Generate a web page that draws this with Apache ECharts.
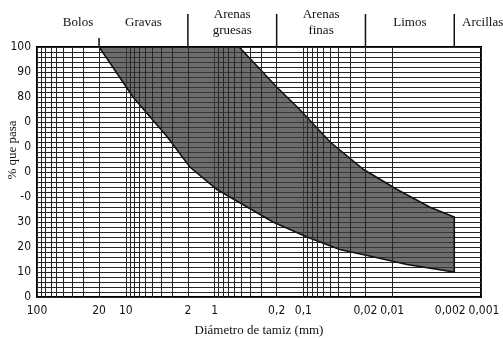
<!DOCTYPE html>
<html><head><meta charset="utf-8">
<script src="https://cdn.jsdelivr.net/npm/echarts@6/dist/echarts.min.js"></script>
<style>html,body{margin:0;padding:0;background:#fff}#c{width:503px;height:338px}</style>
</head><body><div id="c"></div>
<script>
// ---- data ----
const xTicks = [100, 20, 10, 2, 1, 0.2, 0.1, 0.02, 0.01, 0.002, 0.001];
const yTicks = [0, 10, 20, 30, 40, 50, 60, 70, 80, 90, 100];
const yTickLabels = ['0', '10', '20', '30', '-0', '0', '0', '0', '80', '90', '100'];
const soilClasses = ['Bolos', 'Gravas', 'Arenas\ngruesas', 'Arenas\nfinas', 'Limos', 'Arcillas'];
const classLimits = [100, 20, 2, 0.2, 0.02, 0.002, 0.001];
const upperD = [20, 0.53, 0.2, 0.11, 0.05, 0.021, 0.0088, 0.0038, 0.002];
const upperP = [100, 100, 84, 75, 62, 51, 43, 36, 32];
const lowerD = [20, 16, 8.3, 3.4, 1.9, 0.94, 0.43, 0.22, 0.091, 0.039, 0.016, 0.0068, 0.002];
const lowerP = [100, 95, 80, 64, 52, 43, 36, 30, 24, 19, 16, 13, 10];

// ---- layout / style ----
const SERIF = "'Liberation Serif','DejaVu Serif',serif";
const NARROW = "'Liberation Sans Narrow','DejaVu Sans Condensed','Liberation Sans',sans-serif";
const GRID = '#262626';
const labelShift = [10, 0, 0, 0, 0, 15];
const crowded = 0.002; // label drawn on a twin axis so it is not dropped by overlap logic

const minorX = [];
for (let k = -3; k <= 1; k++) for (let m = 2; m <= 9; m++) minorX.push(Number((m * Math.pow(10, k)).toPrecision(6)));

const clean = v => Number(Number(v).toPrecision(6));
const fmt = v => String(clean(v)).replace('.', ',');

const labelBase = {fontFamily: NARROW, fontSize: 12, color: '#111', margin: 8, hideOverlap: false};

const chart = echarts.init(document.getElementById('c'), null, {renderer: 'canvas'});
chart.setOption({
  animation: false,
  grid: {left: 37, right: 22, top: 47, bottom: 41, show: true, borderColor: '#000', borderWidth: 2,
    backgroundColor: 'transparent', outerBoundsMode: 'none', containLabel: false},
  xAxis: [{
    type: 'log', logBase: 10, min: 0.001, max: 100, inverse: true,
    axisLine: {show: false}, axisTick: {show: false},
    axisLabel: Object.assign({}, labelBase, {
      customValues: xTicks.filter(v => v !== crowded),
      formatter: v => clean(v) === 0.001 ? '{r|' + fmt(v) + '}' : fmt(v),
      rich: {r: {fontFamily: NARROW, fontSize: 12, color: '#111', padding: [0, 0, 0, 6]}},
      showMinLabel: true, showMaxLabel: true}),
    splitLine: {show: true, lineStyle: {color: GRID, width: 1}},
    name: 'Diámetro de tamiz (mm)', nameLocation: 'middle', nameGap: 27, nameMoveOverlap: false,
    nameTextStyle: {fontFamily: SERIF, fontSize: 13, color: '#111'}
  }, {
    type: 'log', logBase: 10, min: 0.001, max: 100, inverse: true, position: 'bottom',
    axisLine: {show: false}, axisTick: {show: false}, splitLine: {show: false},
    axisLabel: Object.assign({}, labelBase, {
      customValues: xTicks.filter(v => v === crowded),
      formatter: v => '{l|' + fmt(v) + '}',
      rich: {l: {fontFamily: NARROW, fontSize: 12, color: '#111', padding: [0, 8, 0, 0]}},
      showMinLabel: true, showMaxLabel: true})
  }],
  yAxis: {
    type: 'value', min: 0, max: 100, interval: 10,
    axisLine: {show: false}, axisTick: {show: false},
    axisLabel: {formatter: v => yTickLabels[yTicks.indexOf(Math.round(v))], fontFamily: NARROW, fontSize: 12, color: '#111', margin: 6},
    splitLine: {show: true, lineStyle: {color: GRID, width: 1}},
    minorTick: {show: false, splitNumber: 5},
    minorSplitLine: {show: true, lineStyle: {color: GRID, width: 1}},
    name: '% que pasa', nameLocation: 'middle', nameGap: 18, nameMoveOverlap: false,
    nameTextStyle: {fontFamily: SERIF, fontSize: 13, color: '#111', padding: [0, 0, 0, 44]}
  },
  series: [
    {
      type: 'line', data: [[100, 0]], showSymbol: false, silent: true, z: 1,
      lineStyle: {width: 0},
      markLine: {symbol: 'none', silent: true, animation: false, label: {show: false},
        lineStyle: {color: GRID, width: 1, type: 'solid'},
        emphasis: {disabled: true},
        data: minorX.map(v => ({xAxis: v}))}
    },
    {
      type: 'custom', z: 3, clip: true, silent: true,
      data: upperD.map((d, i) => [d, upperP[i]]),
      renderItem: function (params, api) {
        if (params.dataIndex !== 0) return;
        const pts = [];
        upperD.forEach((d, i) => pts.push(api.coord([d, upperP[i]])));
        for (let i = lowerD.length - 1; i >= 0; i--) pts.push(api.coord([lowerD[i], lowerP[i]]));
        return {type: 'polygon', shape: {points: pts},
          style: {fill: 'rgba(60,60,60,0.75)', stroke: '#111', lineWidth: 1.6}};
      }
    },
    {
      type: 'custom', z: 4, silent: true, clip: false,
      data: soilClasses.map((c, i) => [Math.sqrt(classLimits[i] * classLimits[i + 1]), 100]),
      renderItem: function (params, api) {
        const p = api.coord([api.value(0), 100]);
        return {type: 'text', x: p[0] + labelShift[params.dataIndex], y: p[1] - 24,
          style: {text: soilClasses[params.dataIndex], fontFamily: SERIF, fontSize: 13, fill: '#111',
            align: 'center', verticalAlign: 'middle', lineHeight: 16}};
      }
    },
    {
      type: 'custom', z: 4, silent: true, clip: false,
      data: classLimits.slice(1, 6).map(v => [v, 100]),
      renderItem: function (params, api) {
        const p = api.coord([api.value(0), 100]);
        const len = params.dataIndex === 0 ? 9 : 33;
        return {type: 'line', shape: {x1: p[0], y1: p[1] - len, x2: p[0], y2: p[1]},
          style: {stroke: '#111', lineWidth: 1.5}};
      }
    }
  ]
});
</script></body></html>
